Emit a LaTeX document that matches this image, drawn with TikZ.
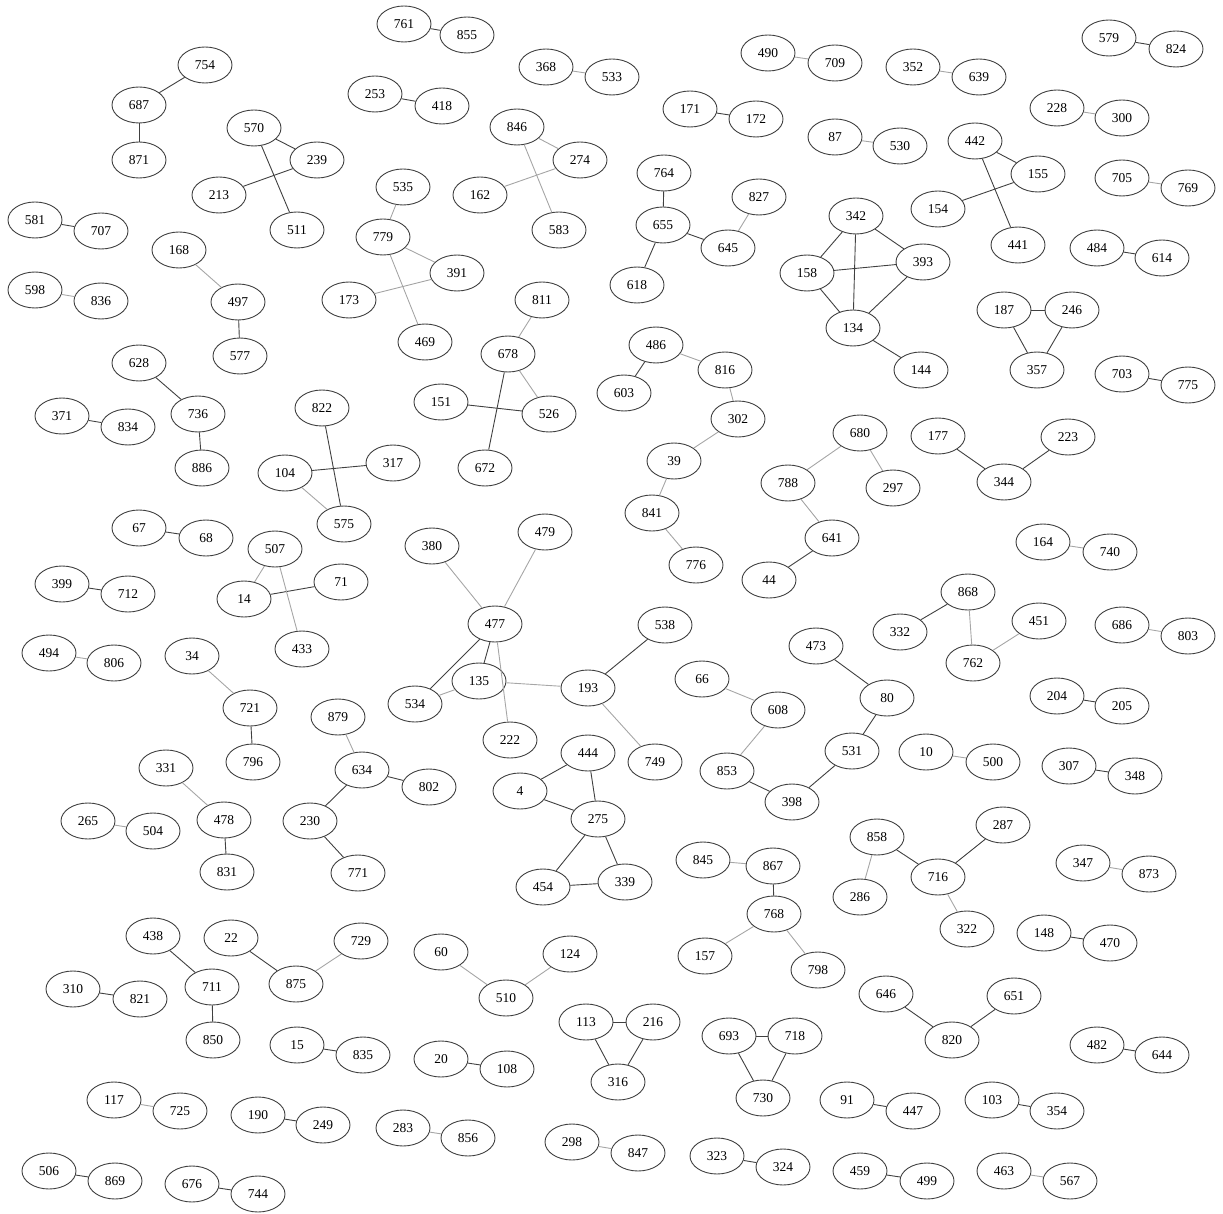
\documentclass[tikz,border=0pt]{standalone}
\usepackage{fontspec}
\setmainfont{Liberation Serif}
\usetikzlibrary{shapes.geometric}
\begin{document}
\begin{tikzpicture}[x=1pt,y=-1pt,
  v/.style={ellipse,draw=black!75,line width=0.9pt,minimum width=54pt,minimum height=36pt,inner sep=0pt,font=\fontsize{13.5}{15}\selectfont},
  de/.style={draw=black!75,line width=0.9pt},
  le/.style={draw=black!35,line width=0.9pt}]
\useasboundingbox (0,0) rectangle (1223,1214);
% top area
\node[v] (n761) at (404,24) {761};
\node[v] (n855) at (467,35) {855};
\node[v] (n754) at (205,65) {754};
\node[v] (n687) at (139,105) {687};
\node[v] (n871) at (139,160) {871};
\node[v] (n570) at (254,128) {570};
\node[v] (n239) at (317,160) {239};
\node[v] (n213) at (219,195) {213};
\node[v] (n511) at (297,230) {511};
\node[v] (n253) at (375,94) {253};
\node[v] (n418) at (442,106) {418};
\node[v] (n368) at (546,67) {368};
\node[v] (n533) at (612,77) {533};
\node[v] (n581) at (35,220) {581};
\node[v] (n707) at (101,231) {707};
\node[v] (n598) at (35,290) {598};
\node[v] (n836) at (101,301) {836};
\node[v] (n168) at (179,250) {168};
\node[v] (n497) at (238,302) {497};
\node[v] (n577) at (240,356) {577};
\node[v] (n535) at (403,187) {535};
\node[v] (n779) at (383,237) {779};
\node[v] (n391) at (457,273) {391};
\node[v] (n173) at (349,300) {173};
\node[v] (n469) at (425,342) {469};
\node[v] (n846) at (517,127) {846};
\node[v] (n274) at (580,160) {274};
\node[v] (n162) at (480,195) {162};
\node[v] (n583) at (559,230) {583};
\node[v] (n171) at (690,109) {171};
\node[v] (n172) at (756,119) {172};
\node[v] (n490) at (768,53) {490};
\node[v] (n709) at (835,63) {709};
\node[v] (n764) at (664,173) {764};
\node[v] (n655) at (663,225) {655};
\node[v] (n645) at (728,248) {645};
\node[v] (n827) at (759,197) {827};
\node[v] (n618) at (637,285) {618};
\node[v] (n352) at (913,67) {352};
\node[v] (n639) at (979,77) {639};
\node[v] (n579) at (1109,38) {579};
\node[v] (n824) at (1176,49) {824};
\node[v] (n228) at (1057,108) {228};
\node[v] (n300) at (1122,118) {300};
\node[v] (n87) at (835,137) {87};
\node[v] (n530) at (900,146) {530};
\node[v] (n442) at (975,141) {442};
\node[v] (n155) at (1038,174) {155};
\node[v] (n154) at (938,209) {154};
\node[v] (n441) at (1018,245) {441};
\node[v] (n705) at (1122,178) {705};
\node[v] (n769) at (1188,188) {769};
\node[v] (n484) at (1097,248) {484};
\node[v] (n614) at (1162,258) {614};
\node[v] (n342) at (856,216) {342};
\node[v] (n158) at (807,273) {158};
\node[v] (n393) at (923,262) {393};
\node[v] (n134) at (853,328) {134};
\node[v] (n144) at (921,370) {144};
\node[v] (n187) at (1004,310) {187};
\node[v] (n246) at (1072,310) {246};
\node[v] (n357) at (1037,370) {357};
\node[v] (n703) at (1122,374) {703};
\node[v] (n775) at (1188,385) {775};
% second band
\node[v] (n628) at (139,363) {628};
\node[v] (n736) at (198,414) {736};
\node[v] (n886) at (202,468) {886};
\node[v] (n371) at (62,416) {371};
\node[v] (n834) at (128,427) {834};
\node[v] (n822) at (322,408) {822};
\node[v] (n317) at (393,463) {317};
\node[v] (n104) at (285,473) {104};
\node[v] (n575) at (344,524) {575};
\node[v] (n67) at (139,528) {67};
\node[v] (n68) at (206,538) {68};
\node[v] (n507) at (275,549) {507};
\node[v] (n71) at (341,582) {71};
\node[v] (n14) at (244,599) {14};
\node[v] (n433) at (302,649) {433};
\node[v] (n399) at (62,584) {399};
\node[v] (n712) at (128,594) {712};
\node[v] (n811) at (542,300) {811};
\node[v] (n678) at (508,354) {678};
\node[v] (n151) at (441,402) {151};
\node[v] (n526) at (549,414) {526};
\node[v] (n672) at (485,468) {672};
\node[v] (n486) at (656,345) {486};
\node[v] (n816) at (725,370) {816};
\node[v] (n603) at (624,393) {603};
\node[v] (n302) at (738,419) {302};
\node[v] (n39) at (674,461) {39};
\node[v] (n841) at (652,513) {841};
\node[v] (n776) at (696,565) {776};
\node[v] (n680) at (860,433) {680};
\node[v] (n297) at (893,488) {297};
\node[v] (n788) at (788,483) {788};
\node[v] (n641) at (832,538) {641};
\node[v] (n44) at (769,580) {44};
\node[v] (n177) at (938,436) {177};
\node[v] (n223) at (1068,437) {223};
\node[v] (n344) at (1004,482) {344};
\node[v] (n164) at (1043,542) {164};
\node[v] (n740) at (1110,552) {740};
% middle
\node[v] (n380) at (432,546) {380};
\node[v] (n479) at (545,532) {479};
\node[v] (n477) at (495,624) {477};
\node[v] (n135) at (479,681) {135};
\node[v] (n534) at (415,704) {534};
\node[v] (n193) at (588,688) {193};
\node[v] (n538) at (665,625) {538};
\node[v] (n222) at (510,740) {222};
\node[v] (n749) at (655,762) {749};
\node[v] (n444) at (588,753) {444};
\node[v] (n4) at (520,791) {4};
\node[v] (n275) at (598,819) {275};
\node[v] (n454) at (543,887) {454};
\node[v] (n339) at (625,882) {339};
\node[v] (n66) at (702,679) {66};
\node[v] (n608) at (778,710) {608};
\node[v] (n853) at (727,771) {853};
\node[v] (n398) at (792,802) {398};
\node[v] (n473) at (816,646) {473};
\node[v] (n80) at (887,698) {80};
\node[v] (n531) at (852,751) {531};
\node[v] (n868) at (968,592) {868};
\node[v] (n332) at (900,632) {332};
\node[v] (n762) at (973,663) {762};
\node[v] (n451) at (1039,621) {451};
\node[v] (n686) at (1122,625) {686};
\node[v] (n803) at (1188,636) {803};
\node[v] (n204) at (1057,696) {204};
\node[v] (n205) at (1122,706) {205};
\node[v] (n10) at (926,752) {10};
\node[v] (n500) at (993,762) {500};
\node[v] (n307) at (1069,766) {307};
\node[v] (n348) at (1135,776) {348};
\node[v] (n858) at (877,837) {858};
\node[v] (n286) at (860,897) {286};
\node[v] (n716) at (938,877) {716};
\node[v] (n287) at (1003,825) {287};
\node[v] (n322) at (967,929) {322};
\node[v] (n347) at (1083,863) {347};
\node[v] (n873) at (1149,874) {873};
\node[v] (n148) at (1044,933) {148};
\node[v] (n470) at (1110,943) {470};
% lower left
\node[v] (n494) at (49,653) {494};
\node[v] (n806) at (114,663) {806};
\node[v] (n34) at (192,656) {34};
\node[v] (n721) at (250,708) {721};
\node[v] (n796) at (253,762) {796};
\node[v] (n879) at (338,717) {879};
\node[v] (n634) at (362,770) {634};
\node[v] (n802) at (429,787) {802};
\node[v] (n230) at (310,821) {230};
\node[v] (n771) at (358,873) {771};
\node[v] (n331) at (166,768) {331};
\node[v] (n478) at (224,820) {478};
\node[v] (n831) at (227,872) {831};
\node[v] (n265) at (88,821) {265};
\node[v] (n504) at (153,831) {504};
% bottom
\node[v] (n845) at (703,860) {845};
\node[v] (n867) at (773,866) {867};
\node[v] (n768) at (774,914) {768};
\node[v] (n157) at (705,956) {157};
\node[v] (n798) at (818,970) {798};
\node[v] (n438) at (153,936) {438};
\node[v] (n711) at (212,987) {711};
\node[v] (n850) at (213,1040) {850};
\node[v] (n22) at (231,938) {22};
\node[v] (n875) at (296,984) {875};
\node[v] (n729) at (361,941) {729};
\node[v] (n310) at (73,989) {310};
\node[v] (n821) at (140,999) {821};
\node[v] (n60) at (441,952) {60};
\node[v] (n124) at (570,954) {124};
\node[v] (n510) at (506,998) {510};
\node[v] (n113) at (586,1022) {113};
\node[v] (n216) at (653,1022) {216};
\node[v] (n316) at (618,1082) {316};
\node[v] (n693) at (729,1036) {693};
\node[v] (n718) at (795,1036) {718};
\node[v] (n730) at (763,1098) {730};
\node[v] (n646) at (886,994) {646};
\node[v] (n651) at (1014,996) {651};
\node[v] (n820) at (952,1040) {820};
\node[v] (n482) at (1097,1045) {482};
\node[v] (n644) at (1162,1055) {644};
\node[v] (n15) at (297,1045) {15};
\node[v] (n835) at (363,1055) {835};
\node[v] (n20) at (441,1059) {20};
\node[v] (n108) at (507,1069) {108};
\node[v] (n117) at (114,1100) {117};
\node[v] (n725) at (180,1111) {725};
\node[v] (n190) at (258,1115) {190};
\node[v] (n249) at (323,1125) {249};
\node[v] (n283) at (403,1128) {283};
\node[v] (n856) at (468,1138) {856};
\node[v] (n298) at (572,1142) {298};
\node[v] (n847) at (638,1153) {847};
\node[v] (n323) at (717,1156) {323};
\node[v] (n324) at (783,1167) {324};
\node[v] (n91) at (847,1100) {91};
\node[v] (n447) at (913,1111) {447};
\node[v] (n103) at (992,1100) {103};
\node[v] (n354) at (1057,1111) {354};
\node[v] (n459) at (860,1171) {459};
\node[v] (n499) at (927,1181) {499};
\node[v] (n463) at (1004,1171) {463};
\node[v] (n567) at (1070,1181) {567};
\node[v] (n506) at (49,1171) {506};
\node[v] (n869) at (115,1181) {869};
\node[v] (n676) at (192,1184) {676};
\node[v] (n744) at (258,1194) {744};
% dark edges
\foreach \a/\b in {761/855,754/687,687/871,570/239,570/511,239/213,253/418,581/707,497/577,
  171/172,764/655,655/645,655/618,579/824,442/155,442/441,155/154,
  342/158,342/393,342/134,158/393,158/134,393/134,134/144,484/614,187/246,187/357,246/357,703/775,
  628/736,736/886,371/834,822/575,104/317,67/68,14/71,399/712,678/672,151/526,486/603,641/44,
  177/344,344/223,477/534,477/135,193/538,444/4,444/275,4/275,275/454,275/339,454/339,853/398,
  473/80,80/531,531/398,868/332,204/205,307/348,858/716,716/287,148/470,721/796,634/802,634/230,
  230/771,478/831,867/768,438/711,711/850,22/875,310/821,113/216,113/316,216/316,693/718,693/730,
  718/730,646/820,651/820,482/644,15/835,20/108,190/249,323/324,91/447,103/354,459/499,506/869,676/744}
  \draw[de] (n\a) -- (n\b);
% light edges
\foreach \a/\b in {598/836,168/497,535/779,779/391,779/469,391/173,846/274,846/583,274/162,368/533,
  490/709,645/827,352/639,87/530,228/300,705/769,104/575,507/14,507/433,811/678,678/526,486/816,
  816/302,302/39,39/841,841/776,680/788,680/297,788/641,164/740,380/477,479/477,477/222,135/534,
  135/193,193/749,66/608,608/853,868/762,762/451,686/803,10/500,858/286,716/322,347/873,494/806,
  34/721,879/634,331/478,265/504,845/867,768/157,768/798,875/729,60/510,124/510,117/725,283/856,
  298/847,463/567}
  \draw[le] (n\a) -- (n\b);
\end{tikzpicture}
\end{document}
